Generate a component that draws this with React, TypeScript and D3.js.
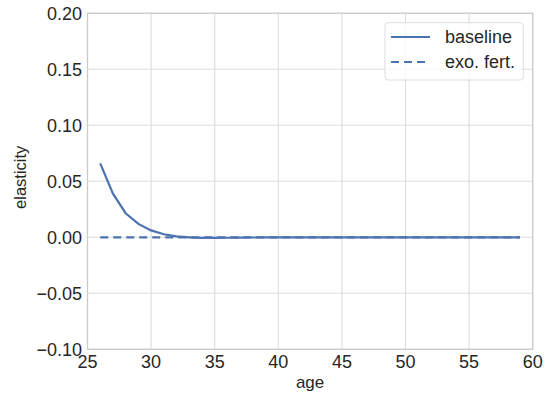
import React from "react";
import * as d3 from "d3";

const ages = [26,27,28,29,30,31,32,33,34,35,36,37,38,39,40,41,42,43,44,45,46,47,48,49,50,51,52,53,54,55,56,57,58,59];
const baseline = [0.066,0.039,0.0215,0.012,0.0062,0.0027,0.0008,0.0,-0.0006,-0.0006,-0.0004,-0.0003,-0.0002,-0.0001,-0.0001,0,0,0,0,0,0,0,0,0,0,0,0,0,0,0,0,0,0,0];
const exoFert = ages.map(() => 0);
const xTicks = [25,30,35,40,45,50,55,60];
const yTicks = [-0.10,-0.05,0.0,0.05,0.10,0.15,0.20];
const seriesNames = ["baseline", "exo. fert."];

export default function App() {
  const W = 551, H = 398;
  const L = 87.5, R = 532.7, T = 13.3, B = 349.3;
  const x = d3.scaleLinear().domain([25, 60]).range([L, R]);
  const y = d3.scaleLinear().domain([-0.10, 0.20]).range([B, T]);
  const line = d3.line<[number, number]>().x(d => x(d[0])).y(d => y(d[1]));
  const color = "#4c72b0";
  const grid = "#dcdcdc";
  const font = "'Liberation Sans', Arial, sans-serif";
  const fmt = (v: number) => (v < 0 ? "\u2212" : "") + Math.abs(v).toFixed(2);
  return (
    <svg width={W} height={H} style={{ position: "absolute", left: 0, top: 0 }} fontFamily={font}>
      <rect x={0} y={0} width={W} height={H} fill="#fff" />
      {xTicks.map(t => (
        <line key={"gx" + t} x1={x(t)} x2={x(t)} y1={T} y2={B} stroke={grid} strokeWidth={1.1} />
      ))}
      {yTicks.map(t => (
        <line key={"gy" + t} x1={L} x2={R} y1={y(t)} y2={y(t)} stroke={grid} strokeWidth={1.1} />
      ))}
      <rect x={L} y={T} width={R - L} height={B - T} fill="none" stroke="#cccccc" strokeWidth={1.3} />
      {xTicks.map(t => (
        <text key={"tx" + t} x={x(t)} y={368} textAnchor="middle" fontSize={18} fill="#262626">{t}</text>
      ))}
      {yTicks.map(t => (
        <text key={"ty" + t} x={82} y={y(t)} dy="0.36em" textAnchor="end" fontSize={18} fill="#262626">{fmt(t)}</text>
      ))}
      <text x={(L + R) / 2} y={387.5} textAnchor="middle" fontSize={17} fill="#262626">age</text>
      <text transform={`translate(26,${(T + B) / 2 - 4}) rotate(-90)`} textAnchor="middle" fontSize={16.5} fill="#262626">elasticity</text>
      <path d={line(ages.map((a, i) => [a, exoFert[i]]) as [number, number][]) || ""} fill="none" stroke={color} strokeWidth={2.2} strokeDasharray="8,5" />
      <path d={line(ages.map((a, i) => [a, baseline[i]]) as [number, number][]) || ""} fill="none" stroke={color} strokeWidth={2.2} />
      <rect x={385} y={22.7} width={138.3} height={57.3} rx={3} fill="#fff" fillOpacity={0.8} stroke="#dddddd" strokeWidth={1} />
      <line x1={391} x2={430} y1={37} y2={37} stroke={color} strokeWidth={2.2} />
      <line x1={391} x2={430} y1={62} y2={62} stroke={color} strokeWidth={2.2} strokeDasharray="8,5" />
      <text x={445} y={37} dy="0.36em" fontSize={18} fill="#262626">{seriesNames[0]}</text>
      <text x={445} y={62} dy="0.36em" fontSize={18} fill="#262626">{seriesNames[1]}</text>
    </svg>
  );
}
